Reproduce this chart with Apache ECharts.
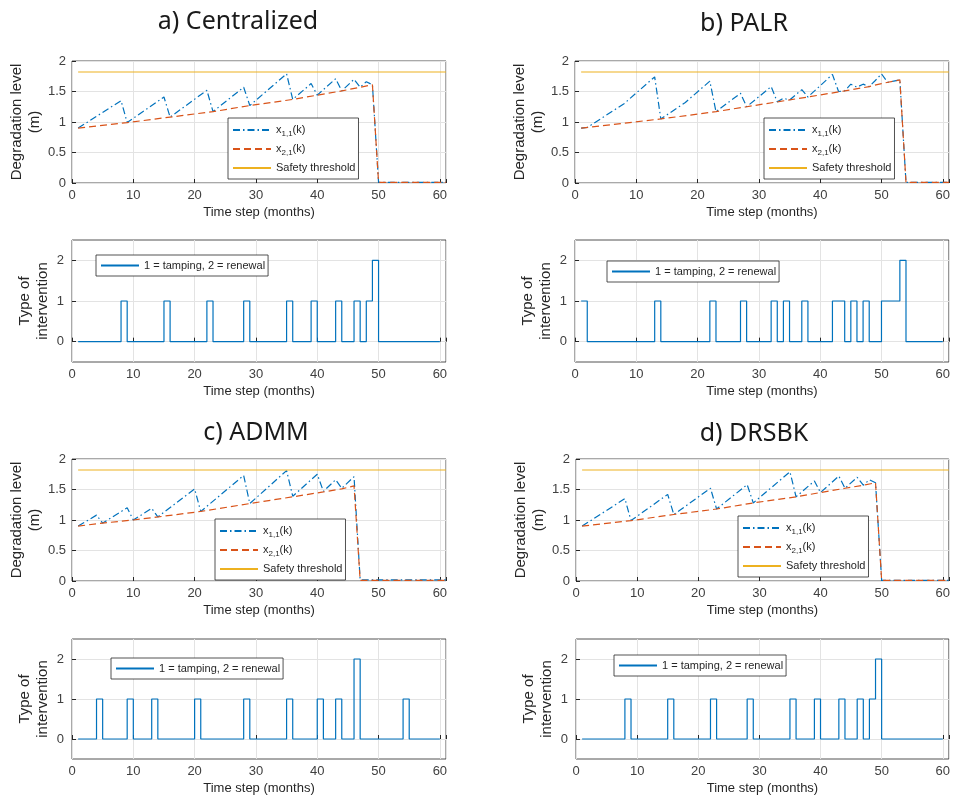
<!DOCTYPE html>
<html>
<head>
<meta charset="utf-8">
<script src="https://cdn.jsdelivr.net/npm/echarts@6/dist/echarts.min.js"></script>
<style>
  html, body { margin: 0; padding: 0; background: #fff; }
  #chart { width: 953px; height: 804px; }
</style>
</head>
<body>
<div id="chart"></div>
<script>
// degradation at the break points of each run, [time step k, level in m]
const x1Centralized = [[1, 0.9], [8, 1.35], [9, 0.99], [15, 1.41], [16, 1.08], [22, 1.52], [23, 1.17], [28, 1.57], [29, 1.27], [35, 1.79], [36, 1.37], [39, 1.63], [40, 1.44], [43, 1.71], [44, 1.51], [46, 1.70], [47, 1.57], [48, 1.66], [49, 1.61], [50, 0.01], [61, 0.01]];
const x2Centralized = [[1, 0.9], [9, 0.99], [16, 1.08], [23, 1.17], [29, 1.27], [36, 1.37], [40, 1.44], [44, 1.51], [47, 1.57], [49, 1.61], [50, 0.01], [61, 0.01]];

const x1Palr = [[1, 0.9], [2, 0.91], [8, 1.30], [13, 1.74], [14, 1.05], [18, 1.32], [22, 1.67], [23, 1.17], [27, 1.47], [28, 1.25], [32, 1.58], [33, 1.33], [34, 1.39], [35, 1.36], [37, 1.53], [38, 1.41], [42, 1.78], [43, 1.50], [44, 1.51], [45, 1.62], [46, 1.57], [47, 1.62], [48, 1.58], [49, 1.68], [50, 1.79], [51, 1.65], [52, 1.67], [53, 1.69], [54, 0.01], [61, 0.01]];
const x2Palr = [[1, 0.9], [14, 1.05], [23, 1.17], [28, 1.25], [33, 1.33], [38, 1.41], [44, 1.51], [48, 1.58], [50, 1.63], [53, 1.69], [54, 0.01], [61, 0.01]];

const x1Admm = [[1, 0.9], [4, 1.08], [5, 0.95], [9, 1.20], [10, 1.0], [13, 1.19], [14, 1.05], [20, 1.51], [21, 1.14], [28, 1.73], [29, 1.27], [35, 1.81], [36, 1.39], [40, 1.75], [41, 1.47], [43, 1.66], [44, 1.52], [46, 1.71], [47, 0.02], [61, 0.02]];
const x2Admm = [[1, 0.9], [5, 0.95], [10, 1.0], [14, 1.05], [21, 1.14], [29, 1.27], [36, 1.38], [41, 1.46], [44, 1.51], [46, 1.56], [47, 0.01], [61, 0.01]];

const x1Drsbk = [[1, 0.9], [8, 1.35], [9, 0.99], [15, 1.42], [16, 1.09], [22, 1.52], [23, 1.18], [28, 1.58], [29, 1.28], [35, 1.79], [36, 1.38], [39, 1.64], [40, 1.45], [43, 1.72], [44, 1.52], [46, 1.70], [47, 1.57], [48, 1.66], [49, 1.61], [50, 0.01], [61, 0.01]];
const x2Drsbk = [[1, 0.9], [9, 0.99], [16, 1.09], [23, 1.18], [29, 1.28], [36, 1.38], [40, 1.45], [44, 1.52], [47, 1.57], [49, 1.61], [50, 0.01], [61, 0.01]];

const threshold = 1.82;
const thresholdSpan = [1, 61];

// intervention type for k = 1..60 (0 none, 1 tamping, 2 renewal)
const uCentralized = [0,0,0,0,0,0,0,1,0,0, 0,0,0,0,1,0,0,0,0,0, 0,1,0,0,0,0,0,1,0,0, 0,0,0,0,1,0,0,0,1,0, 0,0,1,0,0,1,0,1,2,0, 0,0,0,0,0,0,0,0,0,0];
const uPalr       = [1,0,0,0,0,0,0,0,0,0, 0,0,1,0,0,0,0,0,0,0, 0,1,0,0,0,0,1,0,0,0, 0,1,0,1,0,0,1,0,0,0, 0,1,1,0,1,0,1,0,0,1, 1,1,2,0,0,0,0,0,0,0];
const uAdmm       = [0,0,0,1,0,0,0,0,1,0, 0,0,1,0,0,0,0,0,0,1, 0,0,0,0,0,0,0,1,0,0, 0,0,0,0,1,0,0,0,0,1, 0,0,1,0,0,2,0,0,0,0, 0,0,0,1,0,0,0,0,0,0];
const uDrsbk      = [0,0,0,0,0,0,0,1,0,0, 0,0,0,0,1,0,0,0,0,0, 0,1,0,0,0,0,0,1,0,0, 0,0,0,0,1,0,0,0,1,0, 0,0,1,0,0,1,0,1,2,0, 0,0,0,0,0,0,0,0,0,0];

const titles = ['a) Centralized', 'b) PALR', 'c) ADMM', 'd) DRSBK'];
const interventionTicks = [0, 1, 2];

const panels = [
  { x1: x1Centralized, x2: x2Centralized, u: uCentralized },
  { x1: x1Palr, x2: x2Palr, u: uPalr },
  { x1: x1Admm, x2: x2Admm, u: uAdmm },
  { x1: x1Drsbk, x2: x2Drsbk, u: uDrsbk }
];

// layout: degradation grid + intervention grid per panel
const layout = [
  { deg: { left: 72, top: 61, width: 374, height: 122 }, int: { left: 72, top: 240, width: 374, height: 122 },
    degLegend: { left: 228, top: 118 }, intLegend: { left: 96, top: 255 }, title: [238, 22] },
  { deg: { left: 575, top: 61, width: 376, height: 122 }, int: { left: 575, top: 240, width: 376, height: 122 },
    degLegend: { left: 764, top: 118 }, intLegend: { left: 607, top: 261 }, title: [744, 24] },
  { deg: { left: 72, top: 459, width: 374, height: 122 }, int: { left: 72, top: 639, width: 374, height: 120 },
    degLegend: { left: 215, top: 519 }, intLegend: { left: 111, top: 658 }, title: [256, 433] },
  { deg: { left: 576, top: 459, width: 375, height: 122 }, int: { left: 576, top: 639, width: 375, height: 120 },
    degLegend: { left: 738, top: 516 }, intLegend: { left: 614, top: 655 }, title: [754, 434] }
];

const BLUE = '#0072BD', ORANGE = '#D95319', GOLD = '#EDB120';
const AX = '#262626', GRIDLINE = '#e3e3e3';

let grid = [], xAxis = [], yAxis = [], series = [], legend = [], graphic = [];

function xAxisFor(idx) {
  return {
    gridIndex: idx, type: 'value', min: 0, max: 61, interval: 10,
    name: 'Time step (months)', nameLocation: 'middle', nameGap: 23,
    nameTextStyle: { fontSize: 13, color: AX },
    axisLine: { show: false },
    axisTick: { inside: true, length: 4, lineStyle: { color: AX } },
    axisLabel: { fontSize: 13, color: '#404040', margin: 6,
      formatter: v => (v % 10 === 0 ? String(v) : '') },
    splitLine: { lineStyle: { color: GRIDLINE } }
  };
}

// hide the marker that echarts puts on a line series' legend icon
const noMarker = { opacity: 0, color: 'transparent', borderWidth: 0 };

panels.forEach((p, i) => {
  const L = layout[i];
  const gDeg = i * 2, gInt = i * 2 + 1;
  grid.push(Object.assign({ show: true, borderColor: AX, borderWidth: 0.8 }, L.deg));
  grid.push(Object.assign({ show: true, borderColor: AX, borderWidth: 0.8 }, L.int));

  xAxis.push(xAxisFor(gDeg));
  xAxis.push(xAxisFor(gInt));

  yAxis.push({
    gridIndex: gDeg, type: 'value', min: 0, max: 2, interval: 0.5,
    name: 'Degradation level\n(m)', nameLocation: 'middle', nameRotate: 90, nameGap: 27,
    nameTextStyle: { fontSize: 15, lineHeight: 18, color: AX },
    axisLine: { show: false },
    axisTick: { inside: true, length: 4, lineStyle: { color: AX } },
    axisLabel: { fontSize: 13, color: '#404040', margin: 6 },
    splitLine: { lineStyle: { color: GRIDLINE } }
  });
  yAxis.push({
    gridIndex: gInt, type: 'value', min: -0.5, max: 2.5,
    name: 'Type of\nintervention', nameLocation: 'middle', nameRotate: 90, nameGap: 20,
    nameTextStyle: { fontSize: 15, lineHeight: 18, color: AX },
    axisLine: { show: false },
    axisTick: { inside: true, length: 4, customValues: interventionTicks, lineStyle: { color: AX } },
    axisLabel: { fontSize: 13, color: '#404040', margin: 8, customValues: interventionTicks },
    splitLine: { lineStyle: { color: GRIDLINE } }
  });

  series.push({
    name: 'x11', type: 'line', xAxisIndex: gDeg, yAxisIndex: gDeg, symbol: 'none',
    data: p.x1, lineStyle: { color: BLUE, width: 1.2, type: [7, 3, 1.5, 3] }, itemStyle: { color: BLUE }
  });
  series.push({
    name: 'x21', type: 'line', xAxisIndex: gDeg, yAxisIndex: gDeg, symbol: 'none',
    data: p.x2, lineStyle: { color: ORANGE, width: 1.2, type: [7, 4] }, itemStyle: { color: ORANGE }
  });
  series.push({
    name: 'Safety threshold', type: 'line', xAxisIndex: gDeg, yAxisIndex: gDeg, symbol: 'none',
    data: thresholdSpan.map(k => [k, threshold]),
    lineStyle: { color: GOLD, width: 1.2 }, itemStyle: { color: GOLD }
  });
  series.push({
    name: '1 = tamping, 2 = renewal', type: 'line', step: 'end', xAxisIndex: gInt, yAxisIndex: gInt,
    symbol: 'none', data: p.u.map((v, k) => [k + 1, v]),
    lineStyle: { color: BLUE, width: 1.2 }, itemStyle: { color: BLUE }
  });

  legend.push(Object.assign({
    orient: 'vertical', data: ['x11', 'x21', 'Safety threshold'],
    itemWidth: 38, itemHeight: 10, itemGap: 3, padding: [4, 3, 3, 4],
    backgroundColor: '#fff', borderColor: AX, borderWidth: 0.8, borderRadius: 0,
    selectedMode: false, itemStyle: noMarker,
    textStyle: { fontSize: 11, color: AX, lineHeight: 16,
      rich: { v: { fontSize: 11, lineHeight: 16, color: AX },
              s: { fontSize: 8, lineHeight: 8, padding: [8, 0, 0, 0], color: AX } } },
    formatter: n => n === 'x11' ? '{v|x}{s|1,1}{v|(k)}' : n === 'x21' ? '{v|x}{s|2,1}{v|(k)}' : n
  }, L.degLegend));
  legend.push(Object.assign({
    data: ['1 = tamping, 2 = renewal'],
    itemWidth: 38, itemHeight: 10, padding: [4, 3, 4, 4],
    backgroundColor: '#fff', borderColor: AX, borderWidth: 0.8, borderRadius: 0,
    selectedMode: false, itemStyle: noMarker,
    textStyle: { fontSize: 11, color: AX, lineHeight: 13 }
  }, L.intLegend));

  graphic.push({
    type: 'text', x: L.title[0], y: L.title[1],
    style: { text: titles[i], textAlign: 'center', textVerticalAlign: 'middle',
      font: '25px "Noto Sans"', fill: '#1a1a1a' }
  });
});

const chart = echarts.init(document.getElementById('chart'));
chart.setOption({
  animation: false,
  backgroundColor: '#fff',
  textStyle: { fontFamily: '"Liberation Sans", Arial, sans-serif' },
  grid, xAxis, yAxis, series, legend, graphic
});
</script>
</body>
</html>
